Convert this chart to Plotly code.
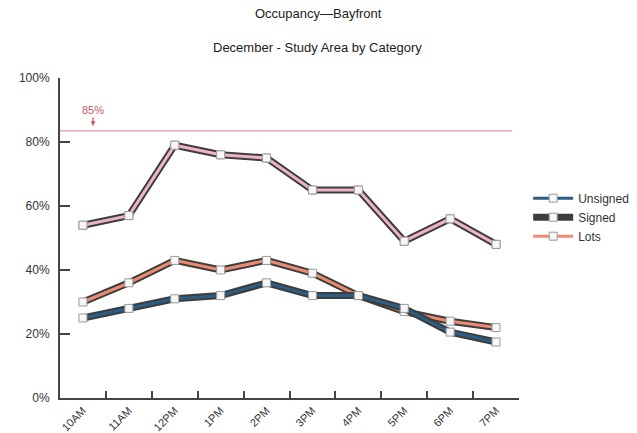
import plotly.graph_objects as go

hours = ["10AM", "11AM", "12PM", "1PM", "2PM", "3PM", "4PM", "5PM", "6PM", "7PM"]
unsigned = [25, 28, 31, 32, 36, 32, 32, 28, 20.6, 17.5]
signed = [54, 57, 79, 76, 75, 65, 65, 49, 56, 48]
lots = [30, 36, 43, 40, 43, 39, 32, 27, 24, 22]
target_value = 83.5
target_label = "85%"

series = [
    ("Unsigned", unsigned, "#2c5d85", 1, False),
    ("Signed", signed, "#efb4c4", 2, True),
    ("Lots", lots, "#ec8a72", 3, False),
]

marker_style = dict(symbol="square", size=8, color="#f7f7f7",
                    line=dict(color="#9a9a9a", width=1))

fig = go.Figure()
for name, vals, col, rank, legend_on_outline in [series[1], series[2], series[0]]:
    fig.add_trace(go.Scatter(
        x=hours, y=vals, mode="lines+markers" if legend_on_outline else "lines",
        name=name, legendgroup=name, legendrank=rank,
        line=dict(color="#3d3d3d", width=7), marker=marker_style,
        showlegend=legend_on_outline, hoverinfo="skip"))
    fig.add_trace(go.Scatter(
        x=hours, y=vals, mode="lines+markers", name=name, legendgroup=name,
        legendrank=rank, showlegend=not legend_on_outline,
        line=dict(color=col, width=3), marker=marker_style))

fig.add_shape(type="line", xref="paper", yref="y", x0=0, x1=0.985,
              y0=target_value, y1=target_value,
              line=dict(color="#d99a9a", width=1.2))
fig.add_annotation(xref="paper", yref="y", x=0.072, y=target_value + 1.5,
                   text=target_label, showarrow=True, arrowhead=2, arrowsize=0.8,
                   arrowwidth=1.2, arrowcolor="#c85a5a", ax=0, ay=-16,
                   font=dict(color="#c85a5a", size=11, family="Liberation Sans"))

fig.update_layout(
    width=637, height=433,
    margin=dict(l=60, r=118, t=78, b=35, autoexpand=False),
    paper_bgcolor="white", plot_bgcolor="white",
    font=dict(family="Liberation Sans", size=12, color="#333"),
    showlegend=True,
    legend=dict(x=1.02, y=0.565, xanchor="left", yanchor="middle",
                traceorder="normal", font=dict(size=12, color="#333"),
                itemwidth=40, tracegroupgap=3, bgcolor="rgba(0,0,0,0)"),
    annotations=list(fig.layout.annotations) + [
        dict(text="Occupancy—Bayfront", xref="paper", yref="paper", x=(318-60)/459,
             y=1, yshift=78-13, showarrow=False, yanchor="middle",
             font=dict(size=13, color="#222")),
        dict(text="December - Study Area by Category", xref="paper", yref="paper",
             x=(317-60)/459, y=1, yshift=78-47, showarrow=False, yanchor="middle",
             font=dict(size=13, color="#222")),
    ],
)
fig.update_xaxes(type="category", range=[-0.5, 9.5], tickson="boundaries",
                 ticks="inside", ticklen=7, tickwidth=1.5, tickcolor="#444",
                 showline=True, linecolor="#444", linewidth=2, showgrid=False,
                 tickangle=-45, tickfont=dict(size=11), zeroline=False,
                 automargin=False, ticklabelstandoff=0)
fig.update_yaxes(range=[0, 100], dtick=20, ticksuffix="%", ticks="inside",
                 ticklen=10, tickwidth=1.5, tickcolor="#444", showline=True,
                 linecolor="#444", linewidth=2, showgrid=False, zeroline=False,
                 tickfont=dict(size=12), automargin=False, ticklabelstandoff=6)

fig.write_html("out.html")
